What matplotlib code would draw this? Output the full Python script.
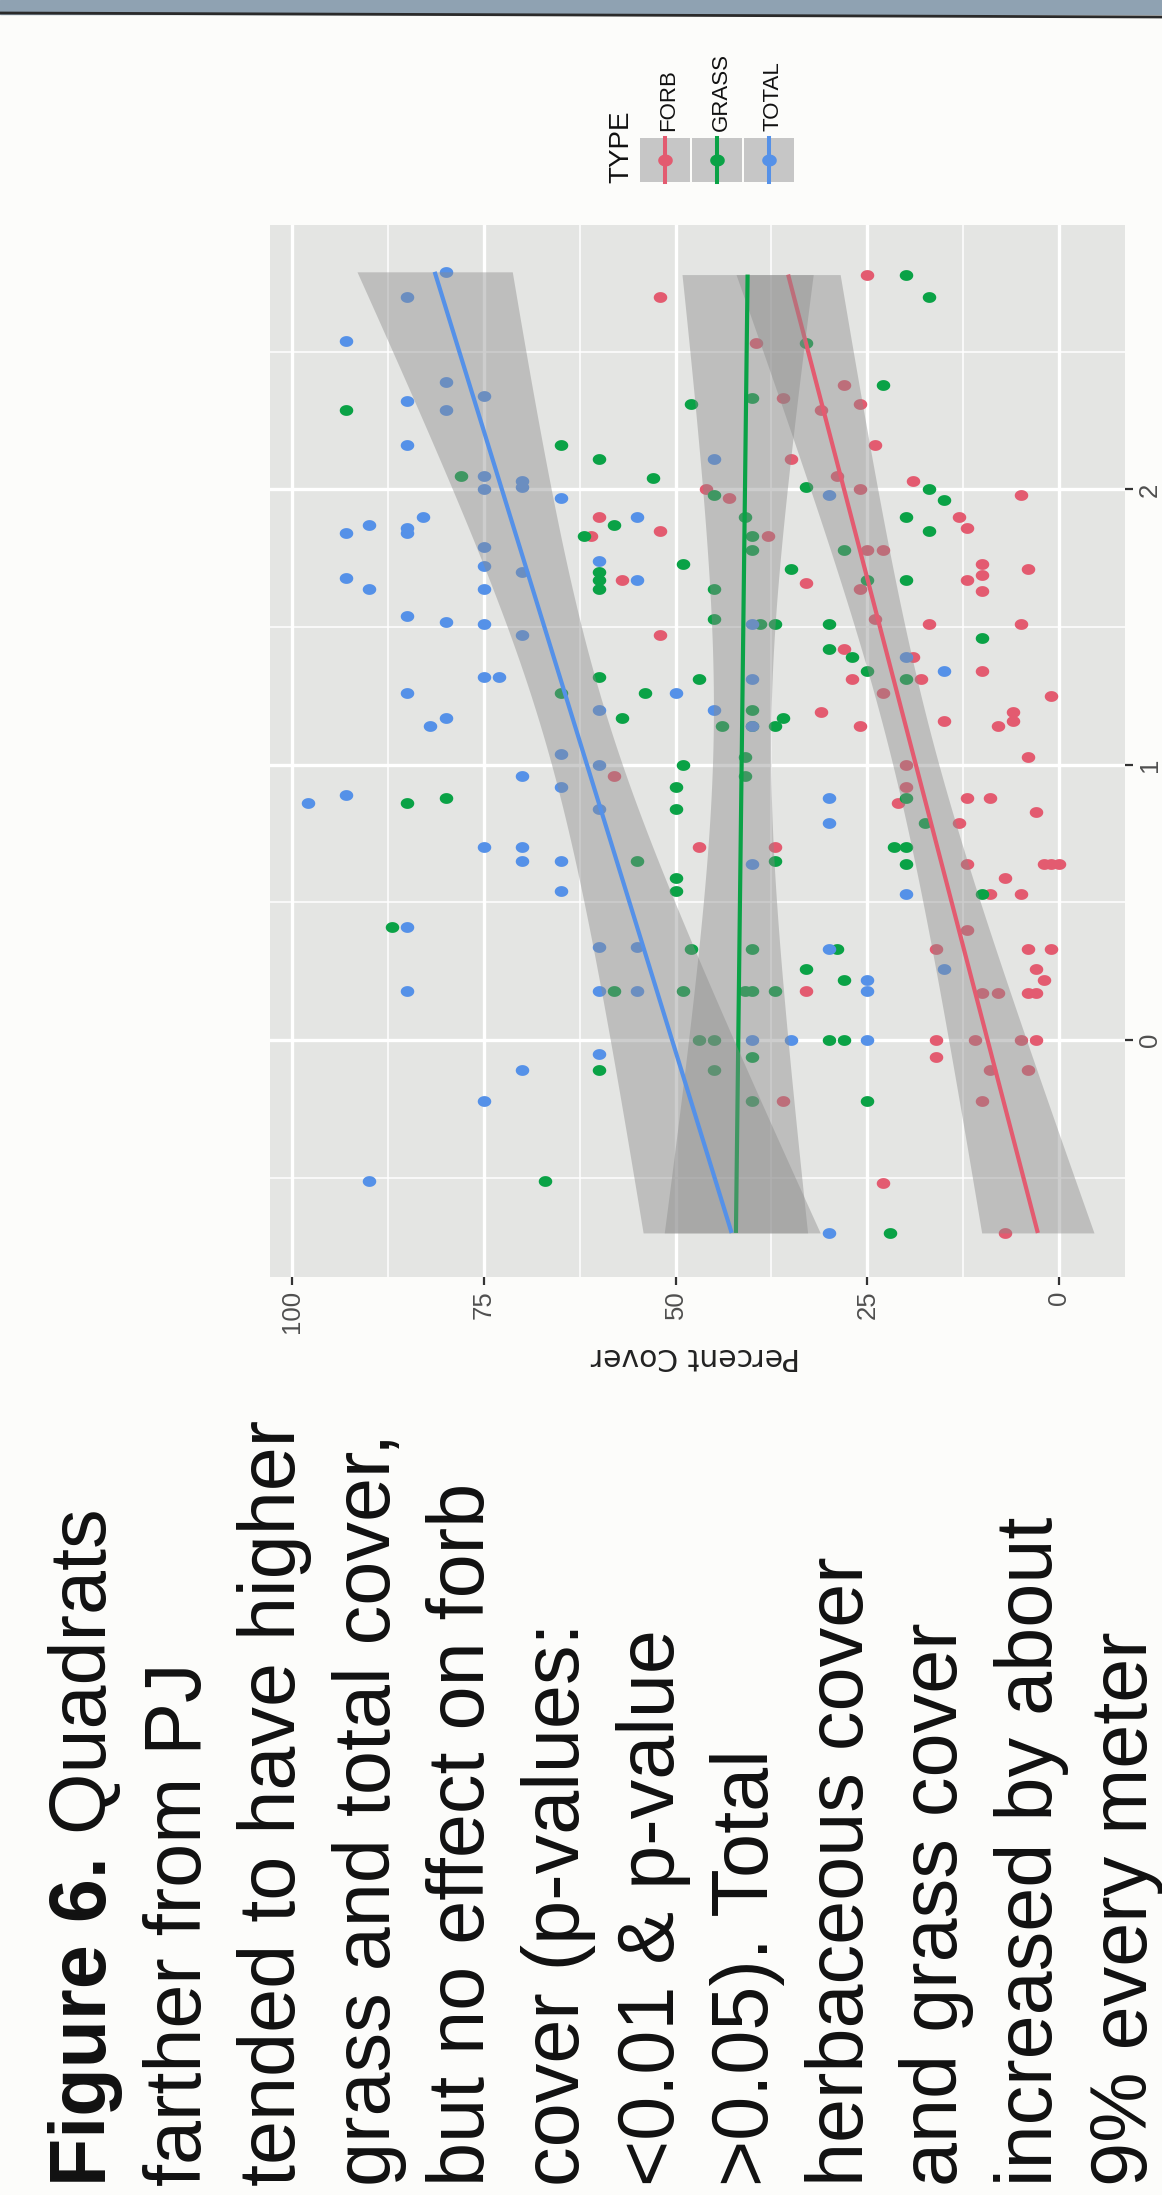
import numpy as np
import matplotlib
matplotlib.use("Agg")
import matplotlib.pyplot as plt
from matplotlib import font_manager
from matplotlib.path import Path
from matplotlib.patches import Rectangle
from matplotlib.lines import Line2D

# ---------------- data ----------------
types = ["FORB", "GRASS", "TOTAL"]
colors = ["#E35B70", "#0AA246", "#5591E8"]

forb_logdist = [2.70, 2.78, 2.53, 2.38, 2.33, 2.29, 2.31, 2.16, 2.11, 2.05, 2.00, 2.03, 2.00, 1.97,
                1.98, 1.90, 1.85, 1.83, 1.90, 1.86, 1.83, 1.78, 1.78, 1.67, 1.73, 1.69, 1.63, 1.67,
                1.71, 1.66, 1.64, 1.47, 1.53, 1.51, 1.51, 1.42, 1.39, 1.31, 1.31, 1.34, 1.25, 1.26,
                1.19, 1.14, 1.16, 1.14, 1.19, 1.16, 0.96, 1.03, 1.00, 0.92, 0.86, 0.88, 0.88, 0.83,
                0.79, 0.70, 0.70, 0.64, 0.64, 0.64, 0.64, 0.59, 0.53, 0.53, 0.40, 0.33, 0.33, 0.33,
                0.26, 0.22, 0.18, 0.17, 0.17, 0.17, 0.17, 0.00, -0.06, 0.00, 0.00, 0.00, -0.11,
                -0.11, -0.22, -0.22, -0.52, -0.70]
forb_cover = [52, 25, 39.5, 28, 36, 31, 26, 24, 35, 29, 26, 19, 46, 43,
              5, 60, 52, 61, 13, 12, 38, 25, 23, 57, 10, 10, 10, 12,
              4, 33, 26, 52, 24, 17, 5, 28, 19, 27, 18, 10, 1, 23,
              31, 26, 15, 8, 6, 6, 58, 4, 20, 20, 21, 12, 9, 3,
              13, 47, 37, 12, 2, 1, 0, 7, 5, 9, 12, 16, 4, 1,
              3, 2, 33, 10, 8, 4, 3, 16, 16, 11, 5, 3, 9,
              4, 36, 10, 23, 7]

grass_logdist = [2.29, 2.16, 2.11, 2.05, 2.04, 1.87, 1.83, 1.70, 1.67, 1.64, 1.73, 1.32, 1.26, 1.26,
                 1.17, 2.78, 2.70, 2.53, 2.38, 2.31, 2.33, 2.01, 1.98, 2.00, 1.96, 1.90, 1.90, 1.85,
                 1.83, 1.78, 1.78, 1.71, 1.67, 1.67, 1.64, 1.53, 1.51, 1.51, 1.51, 1.46, 1.42, 1.39,
                 1.31, 1.34, 1.31, 1.20, 1.14, 1.14, 1.14, 1.17, 0.86, 0.88, 1.00, 0.92, 0.84, 0.65,
                 0.59, 0.54, 0.41, 0.18, 0.18, -0.11, -0.51, 1.03, 0.96, 0.88, 0.79, 0.65, 0.70, 0.70,
                 0.64, 0.53, 0.33, 0.33, 0.33, 0.26, 0.22, 0.18, 0.18, 0.18, 0.00, 0.00, 0.00, 0.00,
                 -0.06, -0.11, -0.22, -0.22, -0.70]
grass_cover = [93, 65, 60, 78, 53, 58, 62, 60, 60, 60, 49, 60, 65, 54,
               57, 20, 17, 33, 23, 48, 40, 33, 45, 17, 15, 41, 20, 17,
               40, 40, 28, 35, 25, 20, 45, 45, 39, 37, 30, 10, 30, 27,
               47, 25, 20, 40, 40, 44, 37, 36, 85, 80, 49, 50, 50, 55,
               50, 50, 87, 58, 49, 60, 67, 41, 41, 20, 17.5, 37, 21.5, 20,
               20, 10, 48, 40, 29, 33, 28, 41, 40, 37, 47, 45, 30, 28,
               40, 45, 40, 25, 22]

total_logdist = [2.79, 2.70, 2.54, 2.39, 2.32, 2.29, 2.34, 2.16, 2.05, 2.00, 2.03, 2.01, 1.97, 1.90,
                 1.87, 1.84, 1.86, 1.84, 1.90, 1.79, 1.72, 1.70, 1.64, 1.68, 1.64, 1.74, 1.67, 1.54,
                 1.52, 1.51, 1.47, 1.32, 1.32, 1.26, 1.26, 1.17, 1.14, 1.20, 2.11, 1.98, 1.51, 1.39,
                 1.31, 1.34, 1.20, 1.14, 1.04, 0.96, 0.92, 1.00, 0.84, 0.86, 0.89, 0.70, 0.70, 0.65,
                 0.65, 0.54, 0.41, 0.34, 0.34, 0.18, 0.18, 0.18, -0.05, -0.11, -0.22, -0.51, 0.88, 0.79,
                 0.64, 0.53, 0.33, 0.26, 0.22, 0.18, 0.00, 0.00, 0.00, -0.70]
total_cover = [80, 85, 93, 80, 85, 80, 75, 85, 75, 75, 70, 70, 65, 83,
               90, 93, 85, 85, 55, 75, 75, 70, 75, 93, 90, 60, 55, 85,
               80, 75, 70, 75, 73, 85, 50, 80, 82, 60, 45, 30, 40, 20,
               40, 15, 45, 40, 65, 70, 65, 60, 60, 98, 93, 75, 70, 70,
               65, 65, 85, 60, 55, 85, 60, 55, 60, 70, 75, 90, 30, 30,
               40, 20, 30, 15, 25, 25, 40, 35, 25, 30]

pct_ticks = [0, 25, 50, 75, 100]
logd_ticks = [0, 1, 2]

caption_bold = "Figure 6."
caption_lines = [" Quadrats", "farther from PJ", "tended to have higher", "grass and total cover,",
                 "but no effect on forb", "cover (p-values:", "<0.01 & p-value", ">0.05). Total",
                 "herbaceous cover", "and grass cover", "increased by about", "9% every meter"]

# ---------------- fonts ----------------
names = {f.name for f in font_manager.fontManager.ttflist}
if "Liberation Sans Narrow" in names:
    NAR = ["Liberation Sans Narrow", "DejaVu Sans"]
    cap_size, tick_size, type_size, lab_size = 69, 22, 24, 19
else:
    NAR = ["Liberation Sans", "DejaVu Sans"]
    cap_size, tick_size, type_size, lab_size = 57, 18.5, 20, 16
plt.rcParams["font.family"] = NAR

W, H = 1162, 2195
def fx(px):
    return px / W
def fy(py):
    return 1 - py / H

fig = plt.figure(figsize=(W / 100, H / 100), dpi=100)
fig.patch.set_facecolor("#FCFCFA")

# top bar of the poster photo
fig.patches.append(Rectangle((0, fy(14)), 1, 14 / H, transform=fig.transFigure,
                             color="#8FA2B2", zorder=0))
fig.lines.append(Line2D([0, 1], [fy(13), fy(17)], transform=fig.transFigure,
                        color="#2a2a2a", lw=2))

# ---------------- plot panel (rotated ggplot) ----------------
ax = fig.add_axes([fx(270), fy(1277), 855 / W, 1052 / H])
ax.set_facecolor("#E4E5E3")
for s in ax.spines.values():
    s.set_visible(False)

th = np.linspace(0, 2 * np.pi, 41)
ell = Path(np.column_stack([1.25 * np.cos(th), np.sin(th)]))

data = [(forb_logdist, forb_cover), (grass_logdist, grass_cover), (total_logdist, total_cover)]
for (d, v), c in zip(data, colors):
    ax.scatter(v, d, marker=ell, s=95, color=c, lw=0, zorder=2)

def lm_band(d, v, grid):
    d = np.asarray(d, float); v = np.asarray(v, float)
    X = np.column_stack([np.ones_like(d), d])
    beta = np.linalg.lstsq(X, v, rcond=None)[0]
    r = v - X @ beta
    s2 = r @ r / (len(d) - 2)
    inv = np.linalg.inv(X.T @ X)
    G = np.column_stack([np.ones_like(grid), grid])
    se = np.sqrt(s2 * np.einsum("ij,jk,ik->i", G, inv, G))
    fit = G @ beta
    return fit, fit - 1.99 * se, fit + 1.99 * se

z = 3
for (d, v), c in zip(data, colors):
    grid = np.linspace(min(d), max(d), 80)
    fit, lo, hi = lm_band(d, v, grid)
    ax.fill_betweenx(grid, lo, hi, color="#8a8a8a", alpha=0.42, lw=0, zorder=z)
    ax.plot(fit, grid, color=c, lw=3.0, zorder=z + 0.1, solid_capstyle="butt")
    z += 0.2

ax.set_xlim(102.9, -8.6)
ax.set_ylim(-0.86, 2.96)
ax.set_xticks(pct_ticks)
ax.set_xticklabels([str(t) for t in pct_ticks])
ax.set_xticks([12.5, 37.5, 62.5, 87.5], minor=True)
ax.set_yticks(logd_ticks)
ax.set_yticklabels([str(t) for t in logd_ticks])
ax.set_yticks([-0.5, 0.5, 1.5, 2.5], minor=True)
ax.yaxis.tick_right()
ax.tick_params(which="major", length=5.5, width=1.6, color="#333333", labelcolor="#4f4f4f",
               labelsize=tick_size, pad=4)
ax.tick_params(axis="x", labelrotation=90)
ax.tick_params(axis="y", labelrotation=90, left=False, right=True)
ax.tick_params(which="minor", length=0)
for lbl in ax.get_yticklabels():
    lbl.set_va("center")
ax.grid(which="major", color="white", lw=2.4, zorder=0)
ax.grid(which="minor", color="white", lw=1.1, zorder=0)
ax.set_axisbelow(True)

fig.text(fx(695), fy(1357), "Percent Cover", rotation=180, ha="center", va="center",
         family=["DejaVu Sans"], size=21.5, color="#222222")

# ---------------- legend (rotated) ----------------
fig.text(fx(628), fy(183), "TYPE", rotation=90, rotation_mode="anchor", ha="left",
         va="baseline", size=type_size, color="#111111")
key_x = [665, 717, 769]
for t, c, xc in zip(types, colors, key_x):
    fig.patches.append(Rectangle((fx(xc - 25), fy(182)), 50 / W, 44 / H,
                                 transform=fig.transFigure, color="#C6C6C6", lw=0))
    fig.lines.append(Line2D([fx(xc), fx(xc)], [fy(182), fy(138)], transform=fig.transFigure,
                            color=c, lw=2.9))
    fig.lines.append(Line2D([fx(xc)], [fy(160)], transform=fig.transFigure, marker=ell,
                            ms=9.5, color=c, lw=0))
    fig.text(fx(xc + 9.5), fy(131), t, rotation=90, rotation_mode="anchor", ha="left",
             va="baseline", size=lab_size, color="#111111")

# ---------------- caption (rotated text block) ----------------
start_y = 2186
base0, step = 106, 94.6
tb = fig.text(fx(base0), fy(start_y), caption_bold, rotation=90, rotation_mode="anchor",
              ha="left", va="baseline", size=cap_size, weight="bold", color="#111111")
fig.canvas.draw()
blen = tb.get_window_extent().height
for i, line in enumerate(caption_lines):
    y0 = start_y - blen if i == 0 else start_y
    fig.text(fx(base0 + step * i), fy(y0), line, rotation=90, rotation_mode="anchor",
             ha="left", va="baseline", size=cap_size, color="#111111")

fig.savefig("out.png", dpi=100, facecolor=fig.get_facecolor())
